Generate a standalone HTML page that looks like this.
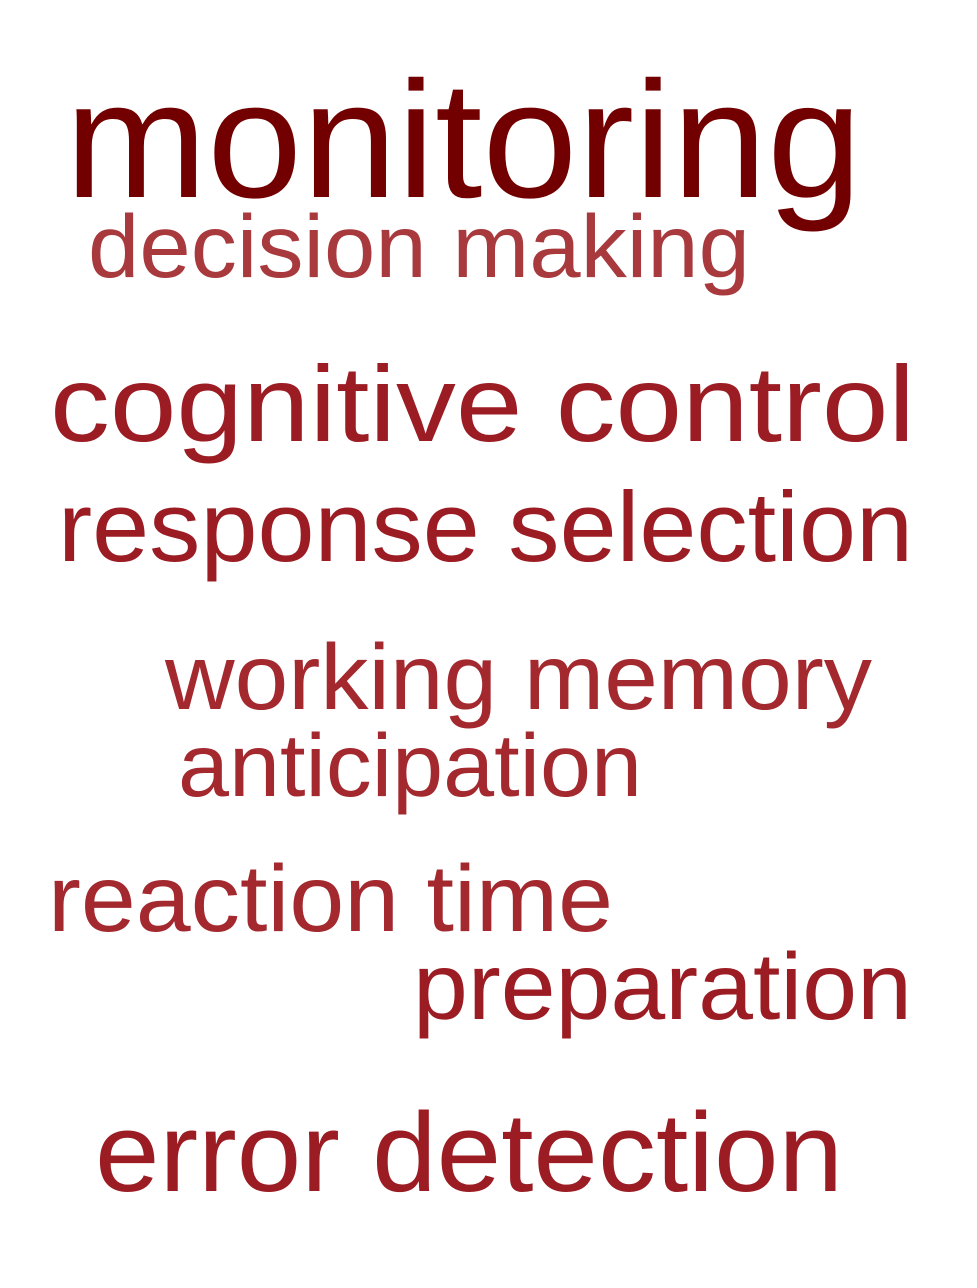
<!DOCTYPE html>
<html><head><meta charset="utf-8"><style>
html,body{margin:0;padding:0;background:#fff;}
svg{display:block;}
text{font-family:"Liberation Sans",Arial,sans-serif;}
</style></head><body>
<svg width="977" height="1288" viewBox="0 0 977 1288" xmlns="http://www.w3.org/2000/svg">
<rect width="977" height="1288" fill="#fff"/>
<text x="65" y="197" font-size="166" fill="#730000" textLength="797" lengthAdjust="spacingAndGlyphs">monitoring</text>
<text x="88" y="277" font-size="89" fill="#a8393d" textLength="662" lengthAdjust="spacingAndGlyphs">decision making</text>
<text x="50" y="441" font-size="108" fill="#9c1c24" textLength="865" lengthAdjust="spacingAndGlyphs">cognitive control</text>
<text x="58" y="561" font-size="99" fill="#9c1c24" textLength="855" lengthAdjust="spacingAndGlyphs">response selection</text>
<text x="165" y="709" font-size="93" fill="#a3292f" textLength="707" lengthAdjust="spacingAndGlyphs">working memory</text>
<text x="178" y="796" font-size="89" fill="#a3292f" textLength="464" lengthAdjust="spacingAndGlyphs">anticipation</text>
<text x="48" y="931" font-size="95" fill="#a3292f" textLength="565" lengthAdjust="spacingAndGlyphs">reaction time</text>
<text x="413" y="1019" font-size="95" fill="#9c1c24" textLength="499" lengthAdjust="spacingAndGlyphs">preparation</text>
<text x="95" y="1191" font-size="112" fill="#9c1c24" textLength="748" lengthAdjust="spacingAndGlyphs">error detection</text>
</svg>
</body></html>
